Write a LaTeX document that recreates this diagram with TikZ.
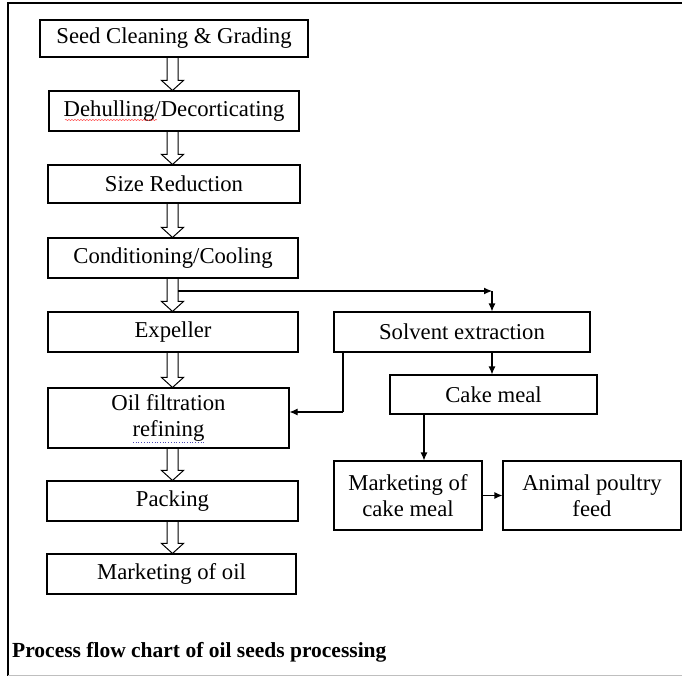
\documentclass[tikz,border=0pt]{standalone}
\usepackage{fontspec}
\setmainfont{Liberation Serif}
\usetikzlibrary{arrows.meta,calc,decorations.pathmorphing}
\newcommand\hollowarrow[2]{%
  \draw[hollow] let \p1=(#1.south -| col), \p2=(#2.north -| col) in
    (\x1-5.5pt,\y1-0.6pt) -- (\x1-5.5pt,\y2+10pt) -- (\x1-11pt,\y2+10pt) -- (\x1,\y2)
    -- (\x1+11pt,\y2+10pt) -- (\x1+5.5pt,\y2+10pt) -- (\x1+5.5pt,\y1-0.6pt);}
\begin{document}
\begin{tikzpicture}[x=1pt,y=-1pt,
  box/.style={draw=black,line width=1.1pt,inner sep=0pt,align=center,
    font=\fontsize{22.7}{25.5}\selectfont},
  hollow/.style={draw=black,line width=1pt,fill=white},
  flow/.style={draw=black,line width=1.1pt,-{Latex[length=8pt,width=7pt]}},
  plain/.style={draw=black,line width=1.1pt},
]
\useasboundingbox (0,0) rectangle (682,676);
\fill[white] (0,0) rectangle (682,676);
\draw[line width=2.5pt] (8,676) -- (8,3) -- (682,3);
\draw[black!25,line width=1pt] (8,675) -- (682,675);
\coordinate (col) at (172.5,0);

\node[box,minimum width=268pt,minimum height=37pt] (seed) at (174,38.5) {Seed Cleaning \& Grading};
\node[box,minimum width=250pt,minimum height=40pt] (dehull) at (174,111) {Dehulling/Decorticating};
\node[box,minimum width=252pt,minimum height=38pt] (size) at (174,184) {Size Reduction};
\node[box,minimum width=250pt,minimum height=40pt] (cond) at (173,258) {Conditioning/Cooling};
\node[box,minimum width=250pt,minimum height=40pt] (exp) at (173,332) {Expeller};
\node[box,minimum width=256pt,minimum height=40pt] (solv) at (462,332) {Solvent extraction};
\node[box,minimum width=241pt,minimum height=60pt] (oil) at (168.5,418) {Oil filtration\\refining};
\node[box,minimum width=207pt,minimum height=39pt] (cake) at (493.5,394.5) {Cake meal};
\node[box,minimum width=148pt,minimum height=69pt] (mcake) at (408,495.5) {Marketing of\\cake meal};
\node[box,minimum width=178pt,minimum height=69pt] (feed) at (592,495.5) {Animal poultry\\feed};
\node[box,minimum width=251pt,minimum height=40pt] (pack) at (172.5,501) {Packing};
\node[box,minimum width=249pt,minimum height=40pt] (moil) at (171.5,574) {Marketing of oil};
\node[anchor=west,inner sep=0pt,font=\bfseries\fontsize{21.5}{25}\selectfont] (cap) at (12,652)
  {Process flow chart of oil seeds processing};

\hollowarrow{seed}{dehull}
\hollowarrow{dehull}{size}
\hollowarrow{size}{cond}
\hollowarrow{cond}{exp}
\hollowarrow{exp}{oil}
\hollowarrow{oil}{pack}
\hollowarrow{pack}{moil}

\coordinate (bstart) at (178,291);
\coordinate (corner) at (492,291);
\draw[flow] (bstart) -- (corner);
\draw[flow] (corner) -- (corner |- solv.north);
\coordinate (sdrop) at (343,412);
\draw[plain] (solv.south -| sdrop) -- (sdrop);
\draw[flow] (sdrop) -- (sdrop -| oil.east);
\draw[flow] (solv.south -| corner) -- (cake.north -| corner);
\coordinate (ccol) at (424,0);
\draw[flow] (cake.south -| ccol) -- (mcake.north -| ccol);
\draw[flow] (mcake.east) -- (feed.west);

\draw[red!70,line width=0.5pt,decorate,decoration={snake,amplitude=0.6pt,segment length=3pt}]
  (65,120) -- (157,120);
\draw[blue!40!gray,line width=0.7pt,dotted] (133,442) -- (204,442);
\end{tikzpicture}
\end{document}
